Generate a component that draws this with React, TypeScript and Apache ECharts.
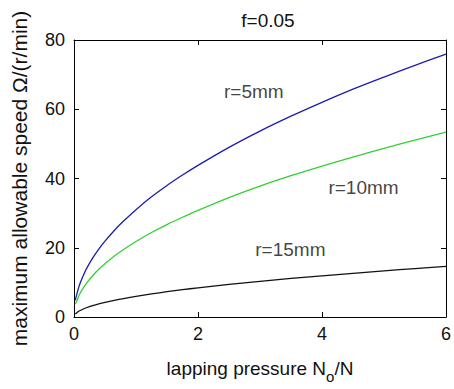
import React, { useEffect, useRef } from "react";
import * as echarts from "echarts";

const pressure = [0.02, 0.04, 0.07, 0.1, 0.15, 0.2, 0.3, 0.4, 0.5, 0.65, 0.8, 1, 1.25, 1.5, 1.75, 2, 2.5, 3, 3.5, 4, 4.5, 5, 5.5, 6];
const speedR5 = [4.8, 6.2, 8.2, 9.8, 12.0, 13.9, 17.0, 19.6, 21.9, 25.0, 27.7, 31.0, 34.7, 38.0, 41.0, 43.8, 49.0, 53.7, 58.0, 62.0, 65.8, 69.3, 72.7, 75.9];
const speedR10 = [3.8, 4.4, 5.8, 6.9, 8.4, 9.7, 11.9, 13.8, 15.4, 17.6, 19.5, 21.8, 24.4, 26.7, 28.8, 30.8, 34.5, 37.8, 40.8, 43.6, 46.2, 48.7, 51.1, 53.4];
const speedR15 = [0.84, 1.19, 1.58, 1.88, 2.31, 2.67, 3.26, 3.77, 4.21, 4.8, 5.33, 5.96, 6.66, 7.3, 7.88, 8.43, 9.42, 10.3, 11.15, 11.9, 12.6, 13.3, 14.0, 14.6];

const seriesNames = ["r=5mm", "r=10mm", "r=15mm"];
const labelX = [2.9, 4.67, 3.49];
const labelY = [65, 37.3, 19.4];

const titleText = "f=0.05";

const FONT = "'Liberation Sans', Arial, sans-serif";

export default function App() {
  const ref = useRef<HTMLDivElement>(null);
  useEffect(() => {
    if (!ref.current) return;
    const chart = echarts.init(ref.current, undefined, { renderer: "svg" });
    const toPairs = (ys: number[]) => pressure.map((x, i) => [x, ys[i]]);
    const colors = ["#1c1cb0", "#33d033", "#111111"];
    const datasets = [speedR5, speedR10, speedR15];
    const tickCommon = { show: true, inside: true, length: 5, lineStyle: { color: "#000", width: 1 } };
    const lineCommon = { show: true, onZero: false, lineStyle: { color: "#000", width: 1 } };
    chart.setOption({
      animation: false,
      backgroundColor: "#fff",
      textStyle: { fontFamily: FONT },
      title: {
        text: titleText,
        left: 263,
        top: 6,
        textAlign: "center",
        textStyle: { fontSize: 19, fontWeight: "normal", color: "#111", fontFamily: FONT },
      },
      grid: { left: 74, right: 1, top: 40, bottom: 63, containLabel: false },
      xAxis: [
        {
          type: "value",
          min: 0,
          max: 6,
          interval: 2,
          position: "bottom",
          axisLine: lineCommon,
          axisTick: tickCommon,
          splitLine: { show: false },
          axisLabel: { fontSize: 18, color: "#111", margin: 8, fontFamily: FONT },
          name: "{a|lapping pressure N}{s|o}{a|/N}",
          nameLocation: "middle",
          nameGap: 36,
          nameTextStyle: {
            rich: {
              a: { fontSize: 19, color: "#111", fontFamily: FONT },
              s: { fontSize: 15, color: "#111", fontFamily: FONT, padding: [16, 0, 0, 0] },
            },
          },
        },
        {
          type: "value",
          min: 0,
          max: 6,
          interval: 2,
          position: "top",
          axisLine: lineCommon,
          axisTick: tickCommon,
          axisLabel: { show: false },
          splitLine: { show: false },
        },
      ],
      yAxis: [
        {
          type: "value",
          min: 0,
          max: 80,
          interval: 20,
          position: "left",
          axisLine: lineCommon,
          axisTick: tickCommon,
          splitLine: { show: false },
          axisLabel: { fontSize: 18, color: "#111", margin: 9, fontFamily: FONT },
          name: "maximum allowable speed Ω/(r/min)",
          nameLocation: "middle",
          nameRotate: 90,
          nameGap: 44,
          nameTextStyle: { fontSize: 21, color: "#111", fontFamily: FONT },
        },
        {
          type: "value",
          min: 0,
          max: 80,
          interval: 20,
          position: "right",
          axisLine: lineCommon,
          axisTick: tickCommon,
          axisLabel: { show: false },
          splitLine: { show: false },
        },
      ],
      series: [
        ...datasets.map((ys, i) => ({
          type: "line",
          name: seriesNames[i],
          data: toPairs(ys),
          showSymbol: false,
          smooth: 0.3,
          lineStyle: { color: colors[i], width: 1.3 },
          itemStyle: { color: colors[i] },
          z: 3,
        })),
        {
          type: "scatter",
          symbolSize: 0,
          data: seriesNames.map((n, i) => ({ value: [labelX[i], labelY[i]], name: n })),
          label: {
            show: true,
            position: "inside",
            formatter: (p: any) => p.name,
            fontSize: 19,
            color: "#111",
            fontFamily: FONT,
          },
          silent: true,
        },
      ],
    });
    return () => chart.dispose();
  }, []);
  return (
    <div
      ref={ref}
      style={{ position: "fixed", left: 0, top: 0, width: 454, height: 389, background: "#fff" }}
    />
  );
}
